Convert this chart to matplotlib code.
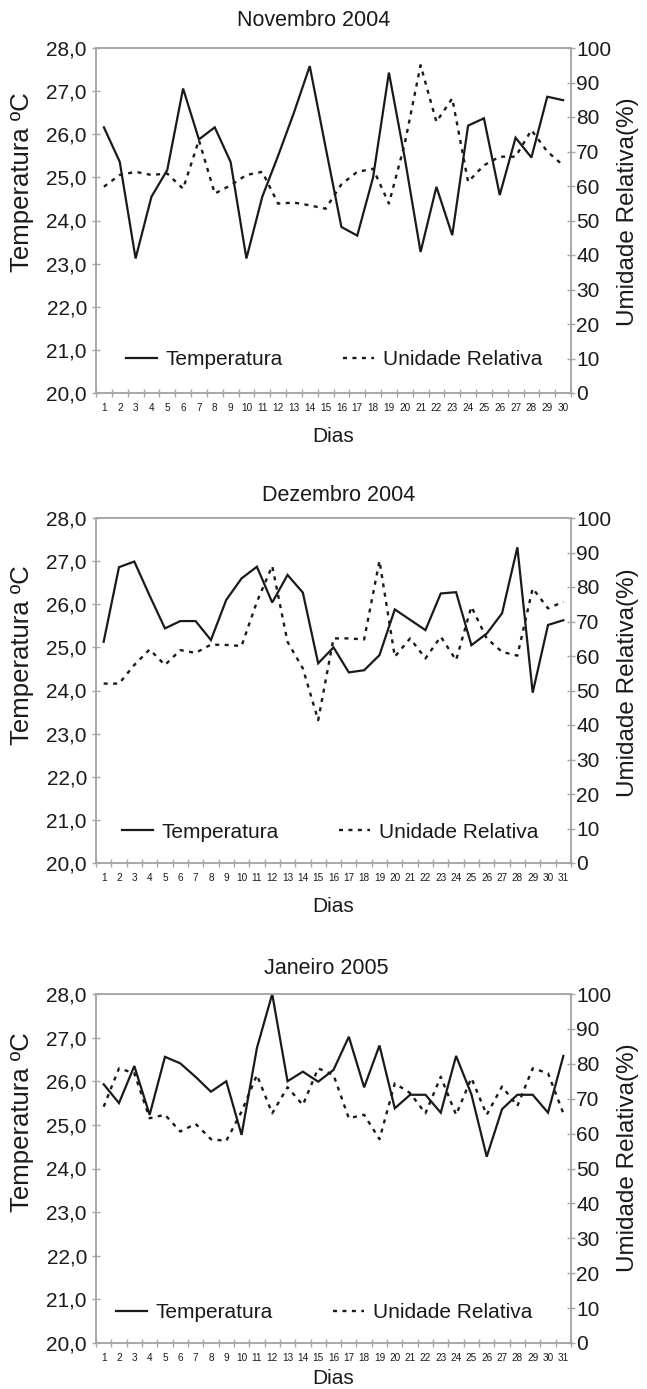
"""
Temperatura e umidade relativa diárias: Nov 2004, Dez 2004 e Jan 2005.
Três painéis empilhados, eixo duplo (temperatura à esquerda, umidade à direita).
"""
import matplotlib
matplotlib.use("Agg")
import matplotlib.pyplot as plt
from matplotlib.ticker import FuncFormatter, FixedLocator

plt.rcParams["font.family"] = ["Liberation Sans", "DejaVu Sans"]

# ---- Dados ----
NOV_TEMP = [26.16, 25.36, 23.12, 24.55, 25.17, 27.06, 25.88, 26.16, 25.36, 23.12,
            24.55, 25.50, 26.50, 27.58, 25.70, 23.85, 23.65, 25.00, 27.43, 25.45,
            23.27, 24.78, 23.66, 26.20, 26.37, 24.59, 25.92, 25.46, 26.87, 26.79]
NOV_RH = [59.8, 63.2, 64.1, 63.2, 63.6, 59.2, 73.3, 57.8, 60.2, 63.2,
          64.1, 54.9, 55.2, 54.4, 53.4, 60.5, 64.1, 65.0, 54.9, 72.3,
          95.0, 78.6, 85.4, 61.2, 66.0, 68.5, 68.5, 76.2, 70.0, 66.0]

DEZ_TEMP = [25.13, 26.86, 26.99, 26.20, 25.44, 25.61, 25.61, 25.17, 26.10, 26.60,
            26.87, 26.04, 26.68, 26.27, 24.63, 25.00, 24.42, 24.47, 24.82, 25.88,
            25.64, 25.40, 26.25, 26.28, 25.05, 25.32, 25.79, 27.32, 23.95, 25.52, 25.63]
DEZ_RH = [52.0, 52.0, 57.4, 61.9, 57.4, 61.7, 60.9, 63.3, 63.2, 62.9,
          75.7, 86.1, 64.1, 56.4, 41.4, 65.1, 65.1, 64.8, 87.6, 59.8,
          65.1, 59.3, 65.6, 58.8, 74.3, 65.1, 61.2, 60.1, 79.6, 73.8, 75.7]

JAN_TEMP = [25.93, 25.50, 26.35, 25.23, 26.56, 26.41, 26.10, 25.76, 26.00, 24.77,
            26.76, 28.00, 26.00, 26.22, 25.99, 26.26, 27.02, 25.86, 26.82, 25.38,
            25.69, 25.69, 25.28, 26.58, 25.70, 24.27, 25.36, 25.69, 25.69, 25.28, 26.58]
JAN_RH = [67.7, 78.7, 77.3, 64.4, 65.4, 60.6, 62.8, 58.4, 57.9, 66.3,
          76.8, 65.8, 73.3, 68.2, 78.7, 76.8, 64.4, 65.4, 58.4, 74.4,
          71.6, 65.8, 76.3, 65.4, 75.9, 65.4, 73.5, 67.9, 78.7, 77.3, 65.8]

TEMP_TICKS = [20, 21, 22, 23, 24, 25, 26, 27, 28]
RH_TICKS = [0, 10, 20, 30, 40, 50, 60, 70, 80, 90, 100]

W, H = 647, 1389
GRAY = "#a6a6a6"
INK = "#1a1a1a"


def fx(px):
    return px / W


def fy(py):
    return 1 - py / H


def draw_panel(fig, box, temp, rh, title, title_pos, tlabel_y, rlabel_y, leg_pos, dias_y):
    left, top, right, bottom = box
    ax = fig.add_axes([fx(left), fy(bottom), fx(right - left), (bottom - top) / H])
    ax2 = ax.twinx()

    days = list(range(1, len(temp) + 1))
    l1, = ax.plot(days, temp, color=INK, lw=1.6, solid_joinstyle="miter")
    l2, = ax2.plot(days, rh, color=INK, lw=1.7, linestyle=(0, (1.7, 2.3)))

    ax.set_xlim(0.5, len(days) + 0.5)
    ax.set_ylim(20, 28)
    ax2.set_ylim(0, 100)

    ax.yaxis.set_major_locator(FixedLocator(TEMP_TICKS))
    ax.yaxis.set_major_formatter(FuncFormatter(lambda v, p: f"{v:.1f}".replace(".", ",")))
    ax2.yaxis.set_major_locator(FixedLocator(RH_TICKS))

    # marcas entre categorias, rótulos no centro de cada dia
    ax.xaxis.set_major_locator(FixedLocator([d + 0.5 for d in range(len(days) + 1)]))
    ax.xaxis.set_major_formatter(FuncFormatter(lambda v, p: ""))
    ax.xaxis.set_minor_locator(FixedLocator(days))
    ax.xaxis.set_minor_formatter(FuncFormatter(lambda v, p: f"{int(round(v))}"))

    for a in (ax, ax2):
        for spine in a.spines.values():
            spine.set_color(GRAY)
            spine.set_linewidth(1.1)

    ax.tick_params(axis="y", direction="inout", length=6, width=1, color=GRAY,
                   labelsize=15, pad=3.5, labelcolor=INK)
    ax2.tick_params(axis="y", direction="inout", length=6, width=1, color=GRAY,
                    labelsize=15, pad=0.8, labelcolor=INK)
    ax.tick_params(axis="x", which="major", direction="inout", length=6, width=1, color=GRAY)
    ax.tick_params(axis="x", which="minor", length=0, labelsize=7.2, pad=7, labelcolor=INK)

    fig.text(fx(title_pos[0]), fy(title_pos[1]), title, ha="center", va="center",
             fontsize=15.5, color=INK)
    fig.text(fx((left + right) / 2), fy(dias_y), "Dias", ha="center", va="center",
             fontsize=15, color=INK)
    fig.text(fx(22), fy(tlabel_y), "Temperatura ºC", rotation=90, ha="center", va="center",
             fontsize=18.5, color=INK)
    fig.text(fx(628), fy(rlabel_y), "Umidade Relativa(%)", rotation=90, ha="center", va="center",
             fontsize=17.5, color=INK)

    ax2.legend([l1, l2], ["Temperatura", "Unidade Relativa"], ncol=2, frameon=False,
               loc="center", bbox_to_anchor=(fx(leg_pos[0]), fy(leg_pos[1])),
               bbox_transform=fig.transFigure, fontsize=15, handlelength=1.5,
               handletextpad=0.4, columnspacing=2.9, labelcolor=INK)
    return ax, ax2


fig = plt.figure(figsize=(W / 100, H / 100), dpi=100, facecolor="white")

draw_panel(fig, (96, 48, 571, 393), NOV_TEMP, NOV_RH, "Novembro 2004",
           (314, 20), 182, 212, (334, 360), 437)
draw_panel(fig, (96, 518, 571, 863), DEZ_TEMP, DEZ_RH, "Dezembro 2004",
           (339, 496), 655, 683, (330, 832), 907)
draw_panel(fig, (96, 994, 571, 1343), JAN_TEMP, JAN_RH, "Janeiro 2005",
           (326, 968), 1122, 1158, (324, 1313), 1378)

fig.savefig("out.png", dpi=100, facecolor=fig.get_facecolor())
plt.close(fig)
